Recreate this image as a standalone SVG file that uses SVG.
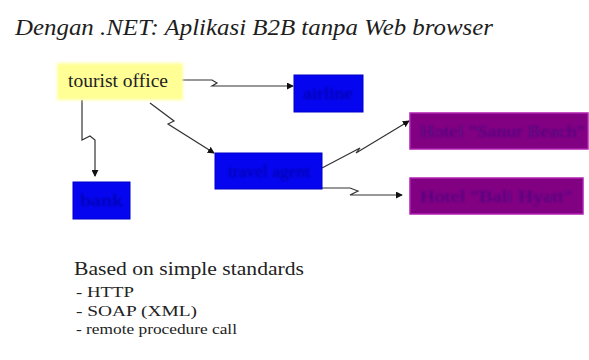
<svg xmlns="http://www.w3.org/2000/svg" width="589" height="360" viewBox="0 0 589 360">
  <style>
    text { font-family: "Liberation Serif", serif; }
    .title { font-style: italic; font-size: 23px; fill: #1e1e1e; }
    .body { fill: #222; }
    .box-blue { fill: #0505f0; stroke: #0000c8; stroke-width: 1; }
    .box-purple { fill: #820082; stroke: #b020b0; stroke-width: 1.5; }
    .lbl { font-size: 17px; filter: url(#smudge); }
    .lbl-blue { fill: #0000a0; }
    .lbl-purple { fill: #4a0a80; }
    .link { fill: none; stroke: #333; stroke-width: 1.2; marker-end: url(#tip); }
  </style>
  <defs>
    <marker id="tip" viewBox="0 0 8 8" refX="7" refY="4" markerWidth="7" markerHeight="7" markerUnits="userSpaceOnUse" orient="auto">
      <path d="M0,0 L8,4 L0,8 z" fill="#111"/>
    </marker>
    <filter id="soft" x="-10%" y="-20%" width="120%" height="140%">
      <feGaussianBlur stdDeviation="1.5"/>
    </filter>
    <filter id="smudge" x="-5%" y="-30%" width="110%" height="160%">
      <feGaussianBlur stdDeviation="0.9"/>
    </filter>
  </defs>

  <rect width="589" height="360" fill="#ffffff"/>

  <text class="title" x="15" y="35" textLength="478" lengthAdjust="spacingAndGlyphs">Dengan .NET: Aplikasi B2B tanpa Web browser</text>

  <g id="connectors">
    <path class="link" d="M182,80 H212 L217,83 L212,86 H293"/>
    <path class="link" d="M150,103 L174,121 L168,124 L214,153"/>
    <path class="link" d="M82,100 V140 L90,136 L95,140 V176"/>
    <path class="link" d="M322,168 L360,148 L356,153 L409,121"/>
    <path class="link" d="M322,188 H350 L358,191 L350,195 H402"/>
  </g>

  <g id="tourist-office">
    <rect x="57" y="63" width="126" height="37" fill="#ffff96" filter="url(#soft)"/>
    <text class="body" x="68" y="87" font-size="18" textLength="100" lengthAdjust="spacingAndGlyphs">tourist office</text>
  </g>

  <g id="airline">
    <rect class="box-blue" x="294" y="75" width="69" height="37"/>
    <text class="lbl lbl-blue" x="303" y="99" textLength="50" lengthAdjust="spacingAndGlyphs">airline</text>
  </g>

  <g id="bank">
    <rect class="box-blue" x="73" y="182" width="57" height="37"/>
    <text class="lbl lbl-blue" x="80" y="206" textLength="43" lengthAdjust="spacingAndGlyphs">bank</text>
  </g>

  <g id="travel-agent">
    <rect class="box-blue" x="215" y="153" width="107" height="36"/>
    <text class="lbl lbl-blue" x="228" y="177" textLength="82" lengthAdjust="spacingAndGlyphs">travel agent</text>
  </g>

  <g id="hotel-sanur">
    <rect class="box-purple" x="410" y="113" width="178" height="36"/>
    <text class="lbl lbl-purple" x="420" y="137" textLength="165" lengthAdjust="spacingAndGlyphs">Hotel "Sanur Beach"</text>
  </g>

  <g id="hotel-bali">
    <rect class="box-purple" x="410" y="178" width="173" height="36"/>
    <text class="lbl lbl-purple" x="420" y="202" textLength="152" lengthAdjust="spacingAndGlyphs">Hotel "Bali Hyatt"</text>
  </g>

  <g id="notes" class="body">
    <text x="74" y="275" font-size="19" textLength="230" lengthAdjust="spacingAndGlyphs">Based on simple standards</text>
    <text x="76" y="297" font-size="15" textLength="58" lengthAdjust="spacingAndGlyphs">- HTTP</text>
    <text x="76" y="316" font-size="15" textLength="121" lengthAdjust="spacingAndGlyphs">- SOAP (XML)</text>
    <text x="76" y="334" font-size="15" textLength="161" lengthAdjust="spacingAndGlyphs">- remote procedure call</text>
  </g>
</svg>
